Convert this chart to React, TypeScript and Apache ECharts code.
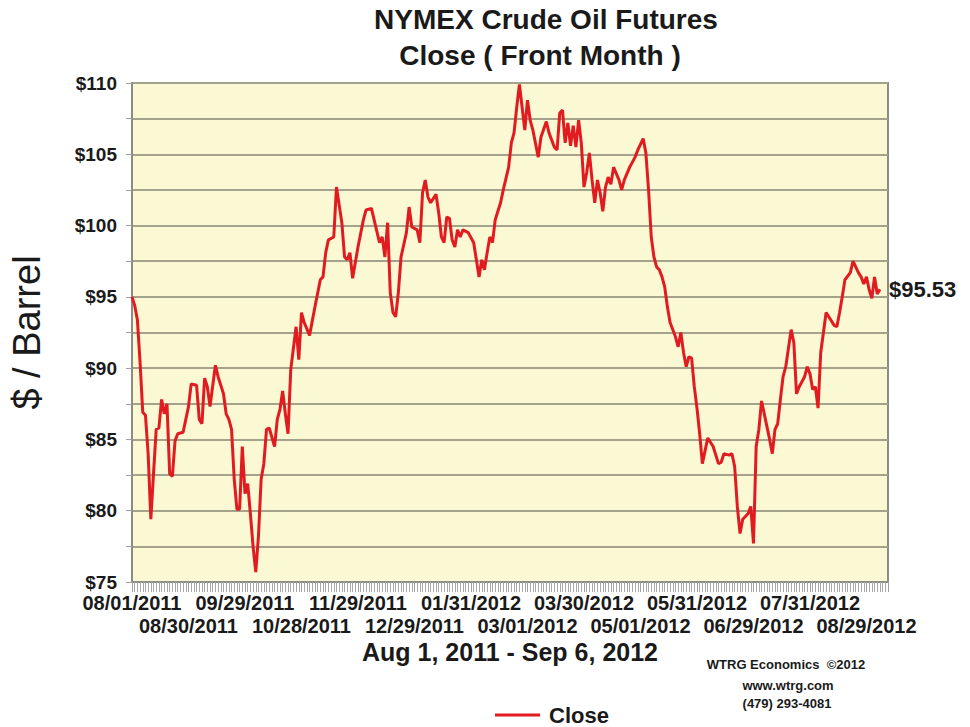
import React, { useEffect, useRef } from "react";
import * as echarts from "echarts";

// trading-day index (0 = 08/01/2011) and close price
const dayIdx = [
  0, 1, 2, 3, 4, 5, 6, 7, 8, 9, 10, 11, 12, 13, 14, 15, 16, 17, 19, 21, 22, 24, 25, 26, 27, 28, 29, 31, 32, 34,
  35, 36, 37, 38, 39, 40, 41, 42, 43, 44, 45, 46, 47, 48, 49, 50, 51, 53, 54, 55, 56, 57, 58, 59, 61, 62, 63, 64, 66, 68,
  70, 71, 72, 73, 75, 76, 78, 79, 80, 81, 82, 84, 86, 87, 89, 90, 92, 93, 94, 95, 96, 97, 98, 99, 100, 102, 103, 104, 106, 107,
  108, 109, 110, 111, 113, 114, 115, 116, 117, 118, 119, 120, 121, 122, 123, 125, 127, 128, 129, 130, 131, 132, 133, 134, 135, 136, 137, 138, 140, 141,
  142, 143, 144, 145, 146, 147, 148, 149, 151, 152, 154, 155, 157, 158, 159, 160, 161, 162, 163, 164, 165, 166, 167, 168, 169, 170, 171, 172, 173, 174,
  175, 176, 177, 178, 179, 181, 182, 183, 185, 187, 188, 190, 191, 192, 193, 194, 195, 196, 197, 198, 199, 200, 202, 203, 204, 205, 206, 207, 208, 209,
  210, 211, 212, 213, 214, 216, 218, 219, 220, 222, 223, 224, 225, 226, 227, 228, 229, 230, 231, 232, 233, 234, 235, 236, 237, 238, 239, 240, 241, 242,
  243, 245, 246, 247, 248, 250, 251, 252, 253, 254, 255, 256, 257, 258, 259, 261, 262, 263, 264, 265, 267, 268, 270, 271, 272, 273, 274, 275, 276, 277,
  278,
];
const closePrice = [
  95.0, 94.4, 93.4, 90.4, 86.9, 86.7, 84.0, 79.4, 82.6, 85.7, 85.8, 87.8, 86.8, 87.5, 82.6, 82.4, 84.9, 85.4, 85.5, 87.3, 88.9, 88.8, 86.4, 86.1, 89.3, 88.7, 87.3, 90.2, 89.4, 88.2,
  86.8, 86.4, 85.7, 82.2, 80.1, 80.1, 84.5, 81.2, 81.9, 79.8, 77.5, 75.7, 78.2, 82.2, 83.3, 85.7, 85.8, 84.5, 86.4, 87.1, 88.4, 86.8, 85.4, 89.9, 92.9, 90.6, 93.9, 93.2, 92.3, 94.3,
  96.2, 96.4, 98.1, 99.0, 99.2, 102.7, 100.2, 97.8, 97.6, 98.1, 96.3, 98.5, 100.4, 101.1, 101.2, 100.4, 98.8, 99.2, 97.8, 100.2, 95.3, 93.9, 93.6, 95.3, 97.8, 99.5, 101.3, 99.9, 99.7, 98.8,
  102.3, 103.2, 102.0, 101.6, 102.2, 100.9, 99.2, 98.8, 100.6, 100.5, 99.0, 98.5, 99.7, 99.2, 99.7, 99.5, 98.8, 97.6, 96.4, 97.6, 96.9, 98.1, 99.2, 98.8, 100.4, 101.0, 101.6, 102.5, 104.1, 105.8,
  106.5, 108.3, 109.9, 108.3, 106.7, 108.8, 107.4, 106.7, 104.8, 106.2, 107.3, 106.5, 105.5, 105.3, 107.9, 108.1, 105.8, 107.2, 105.6, 107.0, 105.5, 107.4, 105.8, 102.7, 103.7, 105.1, 103.2, 101.6, 103.2, 102.3,
  101.0, 102.7, 103.4, 102.9, 104.1, 103.2, 102.5, 103.2, 104.1, 104.8, 105.3, 106.1, 105.1, 102.5, 99.2, 97.8, 97.1, 96.9, 96.4, 95.7, 94.3, 93.2, 92.2, 91.5, 92.5, 91.1, 90.1, 90.8, 90.7, 88.7,
  87.2, 85.4, 83.3, 84.2, 85.1, 84.5, 83.3, 83.4, 84.0, 83.9, 84.0, 83.1, 80.3, 78.4, 79.4, 79.6, 79.8, 80.3, 77.7, 84.5, 85.7, 87.7, 86.8, 85.9, 85.0, 84.0, 85.7, 86.1, 87.8, 89.4,
  90.1, 92.7, 91.8, 88.2, 88.7, 89.4, 90.1, 89.6, 88.5, 88.7, 87.2, 91.1, 92.5, 93.9, 93.6, 93.0, 92.9, 93.9, 95.0, 96.2, 96.7, 97.5, 96.7, 96.4, 95.9, 96.4, 95.5, 94.9, 96.4, 95.2,
  95.53,
];
// date labels shown every 21 trading days (alternating between two rows)
const dateLabels = [
  "08/01/2011", "08/30/2011", "09/29/2011", "10/28/2011", "11/29/2011", "12/29/2011", "01/31/2012",
  "03/01/2012", "03/30/2012", "05/01/2012", "05/31/2012", "06/29/2012", "07/31/2012", "08/29/2012",
];
const LABEL_STEP = 21;
const X_MAX = 281;

const FONT = "'Liberation Sans', Arial, sans-serif";

const labelFor = (v: number, row: number) => {
  const k = v / LABEL_STEP;
  if (!Number.isInteger(k) || k >= dateLabels.length || k % 2 !== row) return "";
  return dateLabels[k];
};

export default function App() {
  const ref = useRef<HTMLDivElement>(null);
  useEffect(() => {
    if (!ref.current) return;
    const chart = echarts.init(ref.current, null, { renderer: "svg" });
    const data = dayIdx.map((d, i) => [d, closePrice[i]]);
    const labelStyle = {
      showMinLabel: true,
      showMaxLabel: true,
      fontFamily: FONT,
      fontSize: 20,
      fontWeight: "bold",
      color: "#1a1a1a",
    };
    chart.setOption({
      animation: false,
      backgroundColor: "#ffffff",
      textStyle: { fontFamily: FONT },
      grid: {
        left: 128,
        right: 82,
        top: 83,
        bottom: 145,
        show: true,
        backgroundColor: "#fbf8d4",
        borderColor: "#8c8c82",
        borderWidth: 2,
      },
      legend: {
        left: 490,
        top: 699,
        icon: "rect",
        itemWidth: 45,
        itemHeight: 3,
        itemGap: 10,
        textStyle: {
          fontFamily: FONT,
          fontSize: 22,
          lineHeight: 20,
          fontWeight: "bold",
          color: "#1a1a1a",
          padding: [0, 0, 0, 4],
        },
        data: ["Close"],
      },
      xAxis: [
        {
          type: "value",
          min: 0,
          max: X_MAX,
          interval: LABEL_STEP,
          name: "Aug 1, 2011 - Sep 6, 2012",
          nameLocation: "middle",
          nameGap: 57,
          nameTextStyle: { fontFamily: FONT, fontSize: 25, fontWeight: "bold", color: "#1a1a1a" },
          axisLine: { show: true, lineStyle: { color: "#8c8c82", width: 2 } },
          axisTick: { show: true, length: 10, lineStyle: { color: "#a0a0a0" } },
          minorTick: { show: true, splitNumber: LABEL_STEP, length: 10, lineStyle: { color: "#a8a8a8" } },
          splitLine: { show: false },
          axisLabel: { ...labelStyle, margin: 11, formatter: (v: number) => labelFor(v, 0) },
        },
        {
          type: "value",
          position: "bottom",
          min: 0,
          max: X_MAX,
          interval: LABEL_STEP,
          axisLine: { show: false },
          axisTick: { show: false },
          splitLine: { show: false },
          axisLabel: { ...labelStyle, margin: 34, formatter: (v: number) => labelFor(v, 1) },
        },
      ],
      yAxis: {
        type: "value",
        min: 75,
        max: 110,
        interval: 2.5,
        name: "$ / Barrel",
        nameLocation: "middle",
        nameGap: 86,
        nameRotate: 90,
        nameTextStyle: { fontFamily: FONT, fontSize: 38, color: "#1a1a1a" },
        axisLine: { show: true, lineStyle: { color: "#8c8c82", width: 2 } },
        axisTick: { show: true, length: 6, lineStyle: { color: "#a0a0a0" } },
        splitLine: { show: true, lineStyle: { color: "#a3a28a", width: 2 } },
        axisLabel: {
          margin: 15,
          fontFamily: FONT,
          fontSize: 19,
          fontWeight: "bold",
          color: "#1a1a1a",
          formatter: (v: number) => (v % 5 === 0 ? "$" + v : ""),
        },
      },
      series: [
        {
          name: "Close",
          type: "line",
          xAxisIndex: 0,
          data,
          symbol: "none",
          lineStyle: { color: "#e11b1f", width: 3 },
          itemStyle: { color: "#e11b1f" },
          endLabel: {
            show: true,
            distance: 9,
            fontFamily: FONT,
            fontSize: 22,
            fontWeight: "bold",
            color: "#1a1a1a",
            formatter: (p: any) => "$" + p.value[1].toFixed(2),
          },
        },
      ],
      graphic: [
        {
          type: "text",
          x: 546,
          y: 19,
          style: {
            text: "NYMEX Crude Oil Futures",
            font: `bold 28px ${FONT}`,
            fill: "#1a1a1a",
            align: "center",
            verticalAlign: "middle",
          },
        },
        {
          type: "text",
          x: 540,
          y: 55,
          style: {
            text: "Close ( Front Month )",
            font: `bold 28px ${FONT}`,
            fill: "#1a1a1a",
            align: "center",
            verticalAlign: "middle",
          },
        },
        {
          type: "text",
          x: 786,
          y: 664,
          style: { text: "WTRG Economics  ©2012", font: `bold 13px ${FONT}`, fill: "#1a1a1a", align: "center", verticalAlign: "middle" },
        },
        {
          type: "text",
          x: 788,
          y: 685,
          style: { text: "www.wtrg.com", font: `bold 13px ${FONT}`, fill: "#1a1a1a", align: "center", verticalAlign: "middle" },
        },
        {
          type: "text",
          x: 787,
          y: 703,
          style: { text: "(479) 293-4081", font: `bold 13px ${FONT}`, fill: "#1a1a1a", align: "center", verticalAlign: "middle" },
        },
      ],
    });
    return () => chart.dispose();
  }, []);
  return (
    <div
      ref={ref}
      style={{ position: "absolute", left: 0, top: 0, width: 970, height: 727, background: "#fff" }}
    />
  );
}
